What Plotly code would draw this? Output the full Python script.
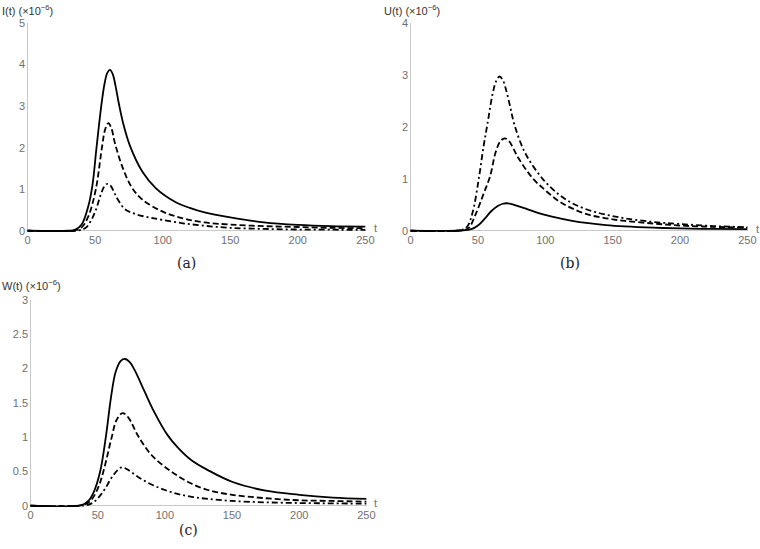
import plotly.graph_objects as go

# ---------------- data ----------------
# Panel (a): I(t) x 1e-6
ta_solid = [0, 30, 35, 40, 45, 48, 51, 54.5, 57, 59, 61, 63, 65, 67.6, 71, 75.7, 85, 95, 110, 120, 131, 150, 175, 200, 225, 250]
Ia_solid = [0, 0, 0.02, 0.15, 0.6, 1.1, 2.0, 3.0, 3.55, 3.8, 3.87, 3.77, 3.5, 3.05, 2.55, 2.05, 1.42, 1.02, 0.68, 0.55, 0.44, 0.32, 0.2, 0.14, 0.11, 0.1]
ta_dash = [0, 35, 40, 45, 50.5, 55, 57.5, 59.8, 62, 64.7, 70, 77, 85, 100, 115, 131, 150, 175, 200, 225, 250]
Ia_dash = [0, 0.01, 0.08, 0.35, 1.0, 2.0, 2.45, 2.59, 2.47, 2.1, 1.55, 1.05, 0.75, 0.46, 0.3, 0.2, 0.15, 0.11, 0.09, 0.07, 0.06]
ta_dd = [0, 38, 43, 47, 50.5, 55, 57.5, 59.3, 61.5, 64, 67, 72, 80, 90, 100, 115, 131, 150, 175, 200, 225, 250]
Ia_dd = [0, 0.01, 0.07, 0.25, 0.5, 0.95, 1.1, 1.13, 1.08, 0.93, 0.74, 0.52, 0.4, 0.32, 0.26, 0.18, 0.12, 0.07, 0.045, 0.03, 0.025, 0.02]

# Panel (b): U(t) x 1e-6
tb_dd = [0, 37, 42, 46, 50.6, 54, 57, 61, 63.5, 66, 68.5, 71, 74, 77, 85, 98, 110, 120, 132, 145, 159, 180, 200, 225, 250]
Ub_dd = [0, 0.01, 0.08, 0.35, 1.0, 1.6, 2.05, 2.65, 2.88, 2.97, 2.9, 2.7, 2.38, 2.05, 1.5, 1.0, 0.7, 0.53, 0.4, 0.31, 0.24, 0.17, 0.13, 0.09, 0.07]
tb_dash = [0, 38, 43, 48, 54, 59, 63, 66.5, 69.8, 73, 76, 80, 91, 100, 110, 120, 132, 145, 159, 180, 200, 225, 250]
Ub_dash = [0, 0.01, 0.05, 0.3, 0.7, 1.05, 1.5, 1.72, 1.78, 1.73, 1.6, 1.4, 1.0, 0.78, 0.57, 0.43, 0.31, 0.24, 0.19, 0.14, 0.1, 0.075, 0.06]
tb_solid = [0, 38, 45, 50, 55.6, 60, 65, 68.5, 71.5, 75, 78, 85, 95, 105, 120, 132, 145, 159, 180, 200, 225, 250]
Ub_solid = [0, 0.005, 0.03, 0.1, 0.25, 0.38, 0.48, 0.52, 0.53, 0.515, 0.49, 0.43, 0.34, 0.27, 0.19, 0.145, 0.11, 0.085, 0.06, 0.045, 0.035, 0.03]

# Panel (c): W(t) x 1e-6
tc_solid = [0, 38, 43, 47, 51.8, 56, 60, 63.3, 67, 70.3, 74, 77.7, 85, 92, 102, 110, 120, 132, 150, 175, 200, 225, 250]
Wc_solid = [0, 0.01, 0.07, 0.2, 0.5, 1.0, 1.6, 1.95, 2.11, 2.14, 2.09, 1.97, 1.66, 1.37, 1.03, 0.84, 0.66, 0.52, 0.35, 0.22, 0.16, 0.12, 0.1]
tc_dash = [0, 38, 44, 50, 54.2, 60.4, 64, 68.5, 73, 80, 90, 104.7, 118, 132, 150, 175, 200, 225, 250]
Wc_dash = [0, 0.01, 0.06, 0.25, 0.5, 1.0, 1.25, 1.35, 1.28, 1.02, 0.74, 0.5, 0.34, 0.23, 0.16, 0.11, 0.08, 0.07, 0.06]
tc_dd = [0, 40, 46, 51, 55.5, 60, 64.8, 67.8, 72, 80, 90, 100, 110, 120, 132, 150, 175, 200, 225, 250]
Wc_dd = [0, 0.005, 0.04, 0.13, 0.25, 0.4, 0.52, 0.56, 0.53, 0.42, 0.31, 0.23, 0.17, 0.13, 0.1, 0.07, 0.05, 0.04, 0.035, 0.03]

x_ticks = [0, 50, 100, 150, 200, 250]
ya_ticks = [0, 1, 2, 3, 4, 5]
yb_ticks = [0, 1, 2, 3, 4]
yc_ticks = [0, 0.5, 1, 1.5, 2, 2.5, 3]
yc_ticktext = ["0", "0.5", "1", "1.5", "2", "2.5", "3"]

# ---------------- figure ----------------
W, H = 760, 549
SOLID = "solid"
DASH = "6px,3px"
DASHDOT = "6px,3px,2px,3px"
LW = 1.8


def add(x, y, dash, xa, ya):
    fig.add_trace(go.Scatter(x=x, y=y, mode="lines", xaxis=xa, yaxis=ya,
                             line=dict(color="black", width=LW, dash=dash,
                                       shape="spline", smoothing=1.0),
                             showlegend=False, hoverinfo="skip"))


fig = go.Figure()
add(ta_solid, Ia_solid, SOLID, "x", "y")
add(ta_dash, Ia_dash, DASH, "x", "y")
add(ta_dd, Ia_dd, DASHDOT, "x", "y")
add(tb_solid, Ub_solid, SOLID, "x2", "y2")
add(tb_dash, Ub_dash, DASH, "x2", "y2")
add(tb_dd, Ub_dd, DASHDOT, "x2", "y2")
add(tc_solid, Wc_solid, SOLID, "x3", "y3")
add(tc_dash, Wc_dash, DASH, "x3", "y3")
add(tc_dd, Wc_dd, DASHDOT, "x3", "y3")


def px(v):
    return v / W


def py(v):
    return 1 - v / H


AX_COL = "#c8c8c8"
TICK_FONT = dict(family="Liberation Sans, Arial, sans-serif", size=11, color="#707070")


def xaxis(x0, x1, anchor):
    return dict(domain=[px(x0), px(x1)], range=[-1.2, 250.5], anchor=anchor,
                tickvals=x_ticks, showgrid=False, showline=False,
                zeroline=True, zerolinecolor=AX_COL, zerolinewidth=1,
                ticks="", tickfont=TICK_FONT, fixedrange=True, automargin=False)


def yaxis(y0, y1, top, tickvals, anchor, ticktext=None):
    d = dict(domain=[py(y0), py(y1)], range=[-0.006 * top, top], anchor=anchor,
             tickvals=tickvals, showgrid=False, showline=False,
             zeroline=True, zerolinecolor=AX_COL, zerolinewidth=1,
             ticks="", tickfont=TICK_FONT, fixedrange=True, automargin=False)
    if ticktext is not None:
        d["ticktext"] = ticktext
    return d


fig.update_layout(
    width=W, height=H,
    margin=dict(l=0, r=0, t=0, b=0),
    paper_bgcolor="white", plot_bgcolor="white",
    xaxis=xaxis(26, 366, "y"),
    yaxis=yaxis(232, 23, 5, ya_ticks, "x"),
    xaxis2=xaxis(409, 748, "y2"),
    yaxis2=yaxis(232, 23, 4, yb_ticks, "x2"),
    xaxis3=xaxis(29, 367, "y3"),
    yaxis3=yaxis(507, 300, 3, yc_ticks, "x3", yc_ticktext),
)

LAB_FONT = dict(family="Liberation Sans, Arial, sans-serif", size=11, color="#333333")
CAP_FONT = dict(family="DejaVu Serif, Liberation Serif, serif", size=14, color="#222222")

annotations = [
    dict(text="I(t) (×10<sup>−6</sup>)", x=px(0), y=py(10), xanchor="left", yanchor="middle", font=LAB_FONT),
    dict(text="U(t) (×10<sup>−6</sup>)", x=px(382), y=py(10), xanchor="left", yanchor="middle", font=LAB_FONT),
    dict(text="W(t) (×10<sup>−6</sup>)", x=px(0), y=py(285), xanchor="left", yanchor="middle", font=LAB_FONT),
    dict(text="t", x=px(375), y=py(228), xanchor="center", yanchor="middle", font=TICK_FONT),
    dict(text="t", x=px(757), y=py(229), xanchor="center", yanchor="middle", font=TICK_FONT),
    dict(text="t", x=px(375), y=py(503), xanchor="center", yanchor="middle", font=TICK_FONT),
    dict(text="(a)", x=px(186), y=py(263), xanchor="center", yanchor="middle", font=CAP_FONT),
    dict(text="(b)", x=px(570), y=py(263), xanchor="center", yanchor="middle", font=CAP_FONT),
    dict(text="(c)", x=px(188), y=py(530), xanchor="center", yanchor="middle", font=CAP_FONT),
]
for a in annotations:
    a.update(xref="paper", yref="paper", showarrow=False)
fig.update_layout(annotations=annotations)

# remove the browser's default 8px body margin so the figure sits at (0, 0)
fig.write_html("out.html", config={"displayModeBar": False},
               post_script="document.body.style.margin='0';")
